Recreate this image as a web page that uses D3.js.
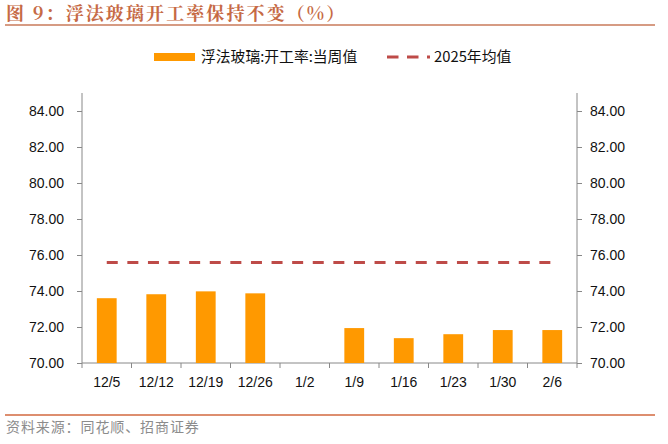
<!DOCTYPE html>
<html>
<head>
<meta charset="utf-8">
<script src="https://cdn.jsdelivr.net/npm/d3@7"></script>
<style>
  body { margin: 0; background: #fff; }
  svg text { font-family: "Liberation Sans", Arial, "Noto Sans CJK SC", sans-serif; }
</style>
</head>
<body>
<div id="chart"></div>
<script>
/* DATA */
const weeks = ["12/5", "12/12", "12/19", "12/26", "1/2", "1/9", "1/16", "1/23", "1/30", "2/6"];
const weeklyRate = [73.6, 73.82, 73.98, 73.87, null, 71.94, 71.38, 71.6, 71.83, 71.83];
const avg2025 = 75.59;
const yTicks = [70, 72, 74, 76, 78, 80, 82, 84];

/* CONSTANTS */
const width = 668, height = 444;
const margin = { top: 93, bottom: 81, left: 82, right: 91 };
const titleColor = "#C66A45";

const svg = d3.select("#chart").append("svg")
  .attr("width", width)
  .attr("height", height);

// title + rules
svg.append("text")
  .attr("x", 6).attr("y", 20)
  .attr("font-size", 18).attr("font-weight", "bold")
  .attr("letter-spacing", 2.1)
  .attr("fill", titleColor)
  .style("font-family", "'Noto Serif CJK SC', 'Noto Sans CJK SC', sans-serif")
  .text("图 9：浮法玻璃开工率保持不变（%）");

svg.append("line")
  .attr("x1", 5).attr("x2", 655).attr("y1", 25).attr("y2", 25)
  .attr("stroke", "#C97A5A").attr("stroke-width", 1.5);

svg.append("line")
  .attr("x1", 5).attr("x2", 655).attr("y1", 415).attr("y2", 415)
  .attr("stroke", "#D2693F").attr("stroke-width", 1.5);

svg.append("text")
  .attr("x", 6).attr("y", 432)
  .attr("font-size", 14).attr("fill", "#8c8c8c")
  .attr("letter-spacing", 0.9)
  .style("font-family", "'Noto Sans CJK SC', sans-serif")
  .text("资料来源：同花顺、招商证券");

/* SCALES */
const x = d3.scaleBand()
  .domain(weeks)
  .range([margin.left, width - margin.right])
  .paddingInner(0.6)
  .paddingOuter(0.3);

const xEdge = d3.scaleLinear()
  .domain([0, weeks.length])
  .range([margin.left, width - margin.right]);

const y = d3.scaleLinear()
  .domain([70, 85])
  .range([height - margin.bottom, margin.top]);

/* AXES */
const fmt = d3.format(".2f");

const yLeft = svg.append("g")
  .attr("transform", `translate(${margin.left},0)`)
  .call(d3.axisLeft(y).tickValues(yTicks).tickFormat(fmt).tickSize(5).tickPadding(13));

const yRight = svg.append("g")
  .attr("transform", `translate(${width - margin.right},0)`)
  .call(d3.axisRight(y).tickValues(yTicks).tickFormat(fmt).tickSize(5).tickPadding(8));

[yLeft, yRight].forEach(g => {
  g.select(".domain").attr("stroke", "#888").attr("d",
    `M0,${y(85)}V${y(70)}`);
  g.selectAll(".tick line").attr("stroke", "#888");
  g.selectAll(".tick text").attr("font-size", 14).attr("fill", "#111")
    .style("font-family", "'Liberation Sans', Arial, sans-serif");
});

// bottom axis: tick marks at category boundaries
const xAxisG = svg.append("g")
  .attr("transform", `translate(0,${y(70)})`);

xAxisG.append("line")
  .attr("x1", margin.left).attr("x2", width - margin.right)
  .attr("stroke", "#888");

xAxisG.selectAll("line.edge")
  .data(d3.range(weeks.length + 1))
  .join("line")
  .attr("class", "edge")
  .attr("x1", d => xEdge(d)).attr("x2", d => xEdge(d))
  .attr("y1", 0).attr("y2", 5)
  .attr("stroke", "#888");

xAxisG.selectAll("text.lab")
  .data(weeks)
  .join("text")
  .attr("class", "lab")
  .attr("x", d => x(d) + x.bandwidth() / 2)
  .attr("y", 24)
  .attr("text-anchor", "middle")
  .attr("font-size", 14).attr("fill", "#111")
  .text(d => d);

/* BARS */
const barData = weeks.map((w, i) => ({ week: w, value: weeklyRate[i] }))
  .filter(d => d.value != null);

svg.selectAll("rect.bar")
  .data(barData)
  .join("rect")
  .attr("class", "bar")
  .attr("x", d => x(d.week))
  .attr("width", x.bandwidth())
  .attr("y", d => y(d.value))
  .attr("height", d => y(70) - y(d.value))
  .attr("fill", "#FF9900");

/* AVERAGE LINE */
const line = d3.line()
  .x(d => x(d) + x.bandwidth() / 2)
  .y(() => y(avg2025));

svg.append("path")
  .datum(weeks)
  .attr("d", line)
  .attr("fill", "none")
  .attr("stroke", "#BE4B48")
  .attr("stroke-width", 3)
  .attr("stroke-dasharray", "11,9.6");

/* LEGEND */
const legend = svg.append("g");
legend.append("rect")
  .attr("x", 154).attr("y", 53).attr("width", 41).attr("height", 8)
  .attr("fill", "#FF9900");
legend.append("text")
  .attr("x", 201).attr("y", 62)
  .attr("font-size", 14.8).attr("fill", "#111")
  .style("font-family", "'Noto Sans CJK SC', sans-serif")
  .text("浮法玻璃:开工率:当周值");
legend.append("line")
  .attr("x1", 387).attr("x2", 430).attr("y1", 57).attr("y2", 57)
  .attr("stroke", "#BE4B48").attr("stroke-width", 3)
  .attr("stroke-dasharray", "11.5,8.5");
legend.append("text")
  .attr("x", 434).attr("y", 62)
  .attr("font-size", 14.8).attr("fill", "#111")
  .style("font-family", "'Noto Sans CJK SC', sans-serif")
  .text("2025年均值");
</script>
</body>
</html>
